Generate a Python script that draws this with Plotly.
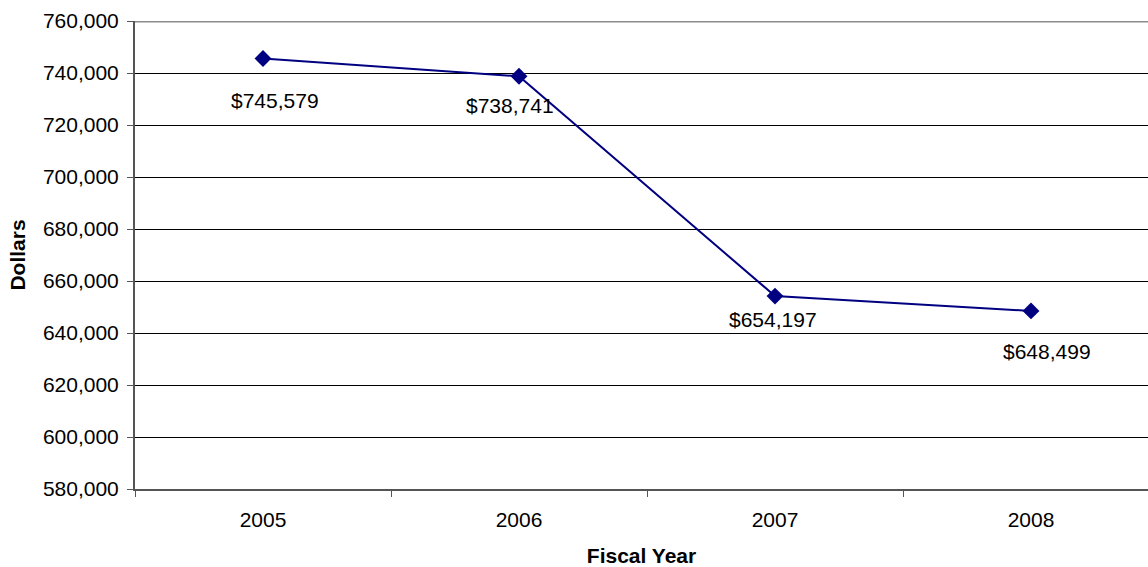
import plotly.graph_objects as go

years = ["2005", "2006", "2007", "2008"]
dollars = [745579, 738741, 654197, 648499]
labels = ["$745,579", "$738,741", "$654,197", "$648,499"]

# label offsets in pixels (dx, dy downward)
label_offsets = [(12, 42), (-9, 29), (-2, 23), (16, 41)]

navy = "#000080"
font_family = "Liberation Sans, Arial, sans-serif"

fig = go.Figure()
fig.add_trace(go.Scatter(
    x=years, y=dollars, mode="lines+markers",
    line=dict(color=navy, width=2),
    marker=dict(symbol="diamond", size=13, color=navy),
    showlegend=False, cliponaxis=False,
))

for i, (val, lab, (dx, dy)) in enumerate(zip(dollars, labels, label_offsets)):
    fig.add_annotation(x=i, y=val, xref="x", yref="y",
                       text=lab.replace("$", "&#36;"), showarrow=False,
                       xshift=dx, yshift=-dy,
                       font=dict(family=font_family, size=21, color="#000000"))

# top border of plot area
fig.add_shape(type="line", xref="paper", yref="y", x0=0, x1=1, y0=760000, y1=760000,
              line=dict(color="#8c8c8c", width=3))

fig.update_layout(
    width=1148, height=567,
    margin=dict(l=135, r=0, t=21, b=78),
    paper_bgcolor="white", plot_bgcolor="white",
    font=dict(family=font_family, size=21, color="#000000"),
    xaxis=dict(
        type="category", range=[-0.5, -0.5 + 1013 / 256],
        showgrid=False, showline=True, linecolor="#555555", linewidth=2,
        ticks="outside", tickson="boundaries", ticklen=6, tickcolor="#555555", tickwidth=1,
        tickfont=dict(size=21), ticklabelstandoff=11,
        title=dict(text="<b>Fiscal Year</b>", font=dict(size=21), standoff=22),
    ),
    yaxis=dict(
        range=[580000, 760000], dtick=20000, tickformat=",d",
        showgrid=True, gridcolor="#000000", gridwidth=1,
        showline=True, linecolor="#555555", linewidth=2,
        ticks="outside", ticklen=6, tickcolor="#555555", tickwidth=1,
        tickfont=dict(size=21), zeroline=False, ticklabelstandoff=4,
        title=dict(text="<b>Dollars</b>", font=dict(size=21), standoff=12),
    ),
)

fig.write_html("out.html")
